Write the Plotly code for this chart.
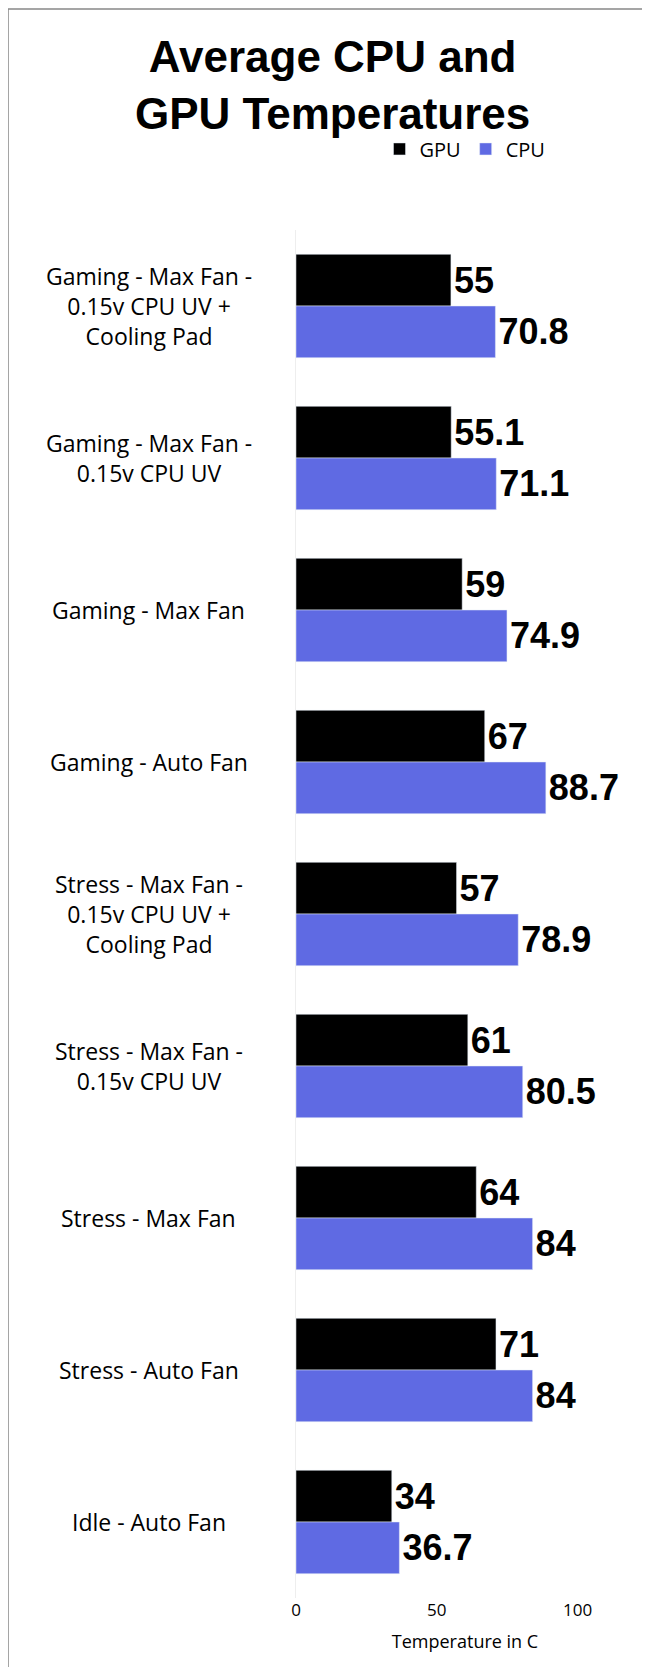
import plotly.graph_objects as go

categories = [
    "Gaming - Max Fan -<br>0.15v CPU UV +<br>Cooling Pad",
    "Gaming - Max Fan -<br>0.15v CPU UV",
    "Gaming - Max Fan",
    "Gaming - Auto Fan",
    "Stress - Max Fan -<br>0.15v CPU UV +<br>Cooling Pad",
    "Stress - Max Fan -<br>0.15v CPU UV",
    "Stress - Max Fan",
    "Stress - Auto Fan",
    "Idle - Auto Fan",
]
gpu = [55, 55.1, 59, 67, 57, 61, 64, 71, 34]
cpu = [70.8, 71.1, 74.9, 88.7, 78.9, 80.5, 84, 84, 36.7]

label_font = dict(family="Liberation Sans, Arial", size=36, color="black")

fig = go.Figure()
fig.add_trace(go.Bar(y=categories, x=gpu, name="GPU", orientation="h",
                     marker_color="#000000", text=[f"<b>{v}</b>" for v in gpu],
                     textposition="outside", textfont=label_font, cliponaxis=False))
fig.add_trace(go.Bar(y=categories, x=cpu, name="CPU", orientation="h",
                     marker_color="#5f6ae3", text=[f"<b>{v}</b>" for v in cpu],
                     textposition="outside", textfont=label_font, cliponaxis=False))

fig.update_layout(
    width=650, height=1667,
    paper_bgcolor="white", plot_bgcolor="white",
    barmode="group", bargap=0.32, bargroupgap=0,
    margin=dict(l=288, r=24, t=222, b=77),
    legend=dict(orientation="h", x=0.5, xanchor="center", y=1.045, yanchor="bottom",
                font=dict(family="Open Sans", size=20, color="black"), traceorder="normal"),
    uniformtext=dict(minsize=8, mode="show"),
    font=dict(family="Open Sans", color="black"),
)
# title as annotation so it sits in place
fig.add_annotation(text="<b>Average CPU and<br>GPU Temperatures</b>", xref="paper", yref="paper",
                   x=0.5 * (1 + 23 / 338) - 0.5 * 288 / 338, y=1 + 200 / 1368, yanchor="top",
                   xanchor="center", showarrow=False,
                   font=dict(family="Liberation Sans, Arial", size=44, color="black"))
# category labels, centred like the reference
for c in categories:
    fig.add_annotation(text=c, x=-0.435, xref="paper", y=c, yref="y", showarrow=False,
                       xanchor="center", align="center",
                       font=dict(family="Open Sans", size=23, color="black"))
fig.update_xaxes(range=[0, 120], tickvals=[0, 50, 100], showgrid=False, zeroline=False,
                 tickfont=dict(size=17), title=dict(text="Temperature in C", font=dict(size=18)),
                 ticklen=0)
fig.update_yaxes(autorange="reversed", showticklabels=False, showline=True,
                 linecolor="#eeeeee", ticks="")
fig.add_shape(type="rect", xref="paper", yref="paper", x0=-288/338, x1=1 + 23/338,
              y0=-77/1368, y1=1 + 221/1368, line=dict(color="#888888", width=1.5))
fig.write_html("out.html")
